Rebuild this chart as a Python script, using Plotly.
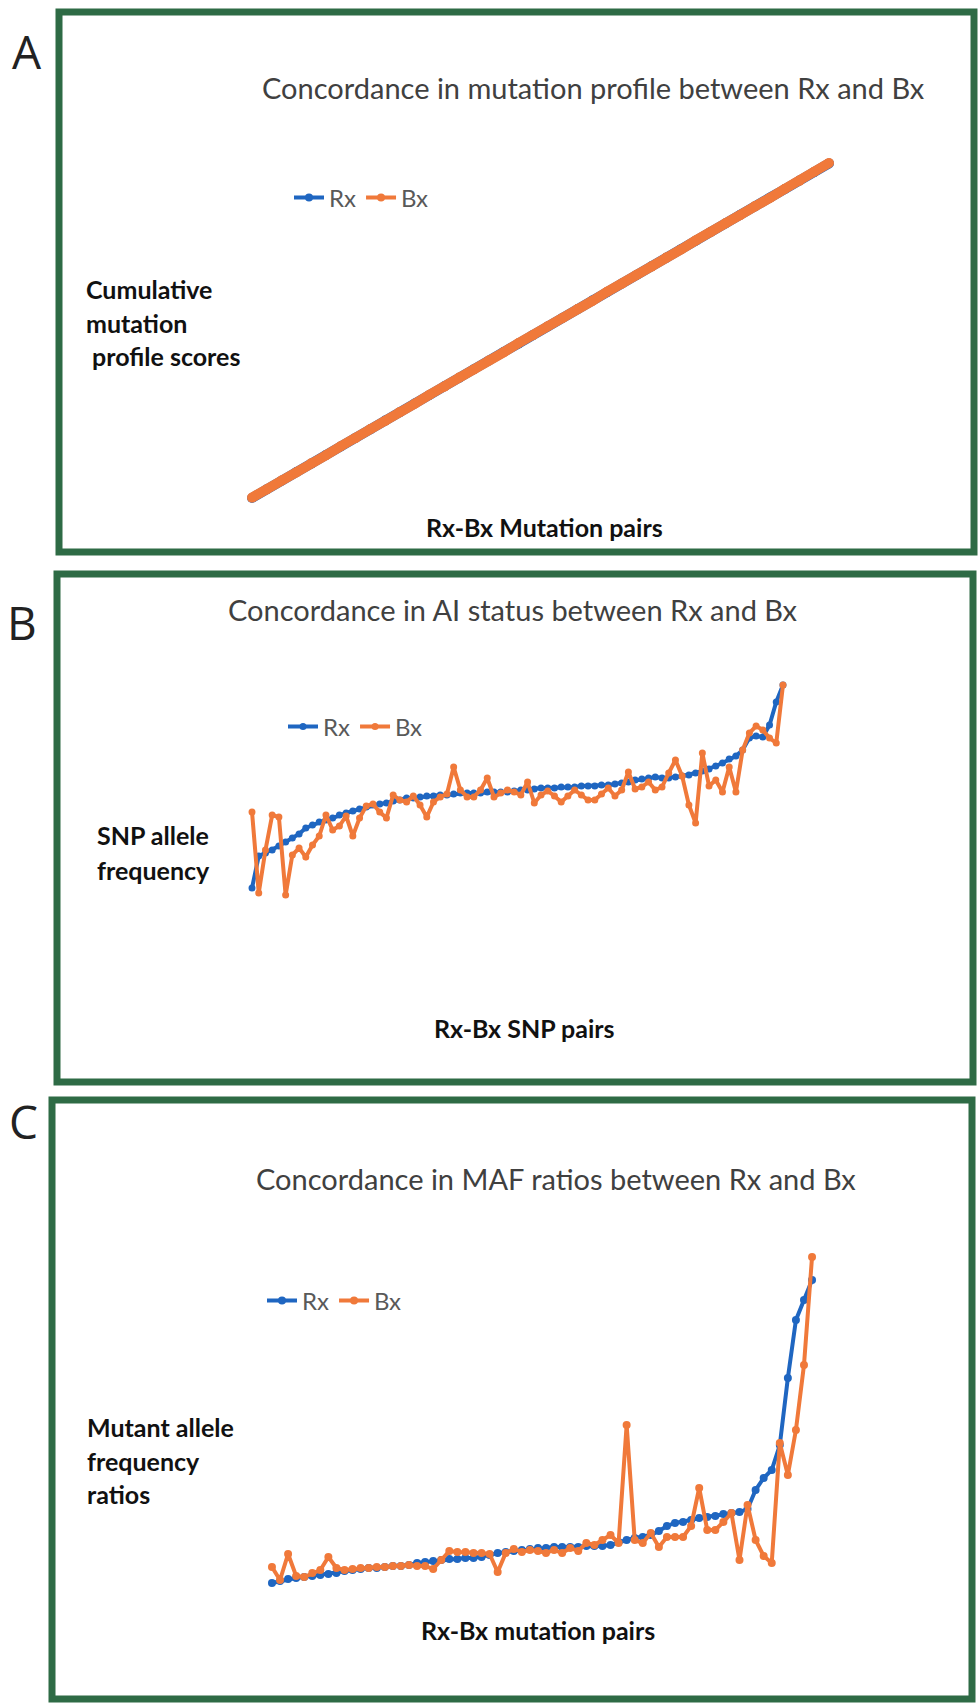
import plotly.graph_objects as go

W, H = 979, 1706

# ---------------- data ----------------
A_rx = [2.0, 4.6, 7.1, 9.7, 12.2, 14.8, 17.3, 19.9, 22.4, 25.0,
        27.5, 30.1, 32.6, 35.2, 37.7, 40.3, 42.8, 45.4, 47.9, 50.5,
        53.0, 55.6, 58.1, 60.7, 63.2, 65.8, 68.3, 70.9, 73.4, 76.0,
        78.5, 81.1, 83.6, 86.2, 88.7, 91.3, 93.8, 96.4, 98.9, 101.5]
A_bx = [2.1, 4.5, 7.2, 9.6, 12.3, 14.7, 17.4, 19.8, 22.5, 24.9,
        27.6, 30.0, 32.7, 35.1, 37.8, 40.2, 42.9, 45.3, 48.0, 50.4,
        53.1, 55.5, 58.2, 60.6, 63.3, 65.7, 68.4, 70.8, 73.5, 75.9,
        78.6, 81.0, 83.7, 86.1, 88.8, 91.2, 93.9, 96.3, 99.0, 101.6]

B_rx = [0.068, 0.196, 0.208, 0.220, 0.236, 0.252, 0.268, 0.284, 0.308, 0.320,
        0.332, 0.340, 0.348, 0.360, 0.368, 0.376, 0.384, 0.392, 0.400, 0.404,
        0.408, 0.416, 0.420, 0.428, 0.428, 0.432, 0.436, 0.436, 0.440, 0.440,
        0.444, 0.448, 0.448, 0.448, 0.448, 0.452, 0.452, 0.452, 0.452, 0.456,
        0.460, 0.460, 0.464, 0.468, 0.468, 0.468, 0.472, 0.472, 0.472, 0.476,
        0.476, 0.476, 0.480, 0.480, 0.484, 0.488, 0.492, 0.500, 0.504, 0.508,
        0.512, 0.508, 0.508, 0.512, 0.516, 0.520, 0.528, 0.536, 0.544, 0.556,
        0.568, 0.584, 0.596, 0.620, 0.668, 0.676, 0.672, 0.720, 0.812, 0.880]
B_bx = [0.372, 0.048, 0.220, 0.360, 0.352, 0.040, 0.200, 0.228, 0.192, 0.240,
        0.276, 0.360, 0.300, 0.316, 0.356, 0.276, 0.348, 0.396, 0.404, 0.372,
        0.348, 0.440, 0.420, 0.412, 0.436, 0.400, 0.352, 0.412, 0.432, 0.444,
        0.552, 0.460, 0.432, 0.432, 0.460, 0.508, 0.432, 0.448, 0.460, 0.452,
        0.440, 0.492, 0.408, 0.440, 0.456, 0.436, 0.412, 0.436, 0.460, 0.440,
        0.420, 0.420, 0.444, 0.468, 0.436, 0.460, 0.532, 0.464, 0.472, 0.492,
        0.460, 0.472, 0.528, 0.580, 0.516, 0.400, 0.328, 0.608, 0.476, 0.500,
        0.452, 0.552, 0.452, 0.620, 0.688, 0.716, 0.700, 0.668, 0.648, 0.880]

C_rx = [0.17, 0.19, 0.21, 0.22, 0.23, 0.24, 0.25, 0.26, 0.27, 0.29,
        0.30, 0.31, 0.32, 0.32, 0.33, 0.34, 0.34, 0.35, 0.37, 0.38,
        0.39, 0.40, 0.41, 0.41, 0.42, 0.42, 0.43, 0.45, 0.47, 0.48,
        0.49, 0.50, 0.51, 0.52, 0.52, 0.53, 0.53, 0.53, 0.53, 0.54,
        0.54, 0.54, 0.55, 0.58, 0.60, 0.62, 0.63, 0.65, 0.69, 0.74,
        0.77, 0.78, 0.80, 0.82, 0.83, 0.84, 0.86, 0.87, 0.88, 0.91,
        1.10, 1.22, 1.30, 1.55, 2.22, 2.80, 3.00, 3.20]
C_bx = [0.33, 0.20, 0.46, 0.24, 0.23, 0.27, 0.30, 0.43, 0.32, 0.30,
        0.31, 0.32, 0.32, 0.33, 0.33, 0.34, 0.34, 0.35, 0.34, 0.34,
        0.31, 0.40, 0.49, 0.48, 0.48, 0.47, 0.47, 0.46, 0.28, 0.47,
        0.51, 0.48, 0.50, 0.49, 0.47, 0.50, 0.47, 0.52, 0.49, 0.57,
        0.55, 0.60, 0.65, 0.57, 1.75, 0.60, 0.57, 0.67, 0.53, 0.63,
        0.63, 0.63, 0.74, 1.12, 0.70, 0.70, 0.78, 0.87, 0.40, 0.95,
        0.60, 0.44, 0.37, 1.57, 1.25, 1.70, 2.35, 3.43]

series_names = ["Rx", "Bx"]
titles = ["Concordance in mutation profile between Rx and Bx",
          "Concordance in AI status between Rx and Bx",
          "Concordance in MAF ratios between Rx and Bx"]
ylabels = [["Cumulative", "mutation", " profile scores"],
           ["SNP allele", "frequency"],
           ["Mutant allele", "frequency", "ratios"]]
xlabels = ["Rx-Bx Mutation pairs", "Rx-Bx SNP pairs", "Rx-Bx mutation pairs"]
panel_letters = ["A", "B", "C"]

# ---------------- styling / layout helpers ----------------
BLUE = "#1f66c1"
ORANGE = "#f0793a"
GREEN = "#2e6b45"
FONT = "Lato"

def px(x):
    return x / W

def py(y):
    return 1 - y / H

fig = go.Figure()

panels = [
    dict(rx=A_rx, bx=A_bx, xdom=(237.2, 843.8), ydom=(521.5, 134.8), yr=(-5, 110),
         lw=10, ms=10, box=(59, 12, 974, 552), title=(593, 88), letter=(27, 51),
         ylab=(84, [289, 323, 356]), xlab=(544, 527), leg=(289, 198)),
    dict(rx=B_rx, bx=B_bx, xdom=(245.3, 789.7), ydom=(905, 655), yr=(0, 1),
         lw=4, ms=7, box=(57, 574, 973, 1082), title=(513, 609), letter=(22, 622),
         ylab=(95, [835, 870]), xlab=(524, 1028), leg=(283, 727)),
    dict(rx=C_rx, bx=C_bx, xdom=(263.9, 820.1), ydom=(1600, 1240), yr=(0, 3.6),
         lw=4, ms=8, box=(52, 1100, 972, 1699), title=(556, 1178), letter=(23, 1121),
         ylab=(85, [1427, 1461, 1494]), xlab=(538, 1630), leg=(262, 1301)),
]

shapes = []
annotations = []
layout_axes = {}
for i, p in enumerate(panels):
    n = len(p["rx"])
    xs = list(range(n))
    suffix = "" if i == 0 else str(i + 1)
    legname = "legend" + suffix
    thick = p["lw"] > 5
    for name, vals, col in ((series_names[0], p["rx"], BLUE), (series_names[1], p["bx"], ORANGE)):
        fig.add_trace(go.Scatter(
            x=xs, y=vals, name=name, mode="lines+markers",
            line=dict(color=col, width=p["lw"]),
            marker=dict(color=col, size=p["ms"]),
            xaxis="x" + suffix, yaxis="y" + suffix,
            legend=legname, cliponaxis=False, showlegend=not thick))
        if thick:
            # legend-only entry with a normal (thin) line + marker symbol
            fig.add_trace(go.Scatter(
                x=[None], y=[None], name=name, mode="lines+markers",
                line=dict(color=col, width=4), marker=dict(color=col, size=8),
                xaxis="x" + suffix, yaxis="y" + suffix,
                legend=legname, showlegend=True, hoverinfo="skip"))
    layout_axes["xaxis" + suffix] = dict(
        domain=[px(p["xdom"][0]), px(p["xdom"][1])], range=[-1, n],
        showgrid=False, zeroline=False, showticklabels=False, showline=False,
        anchor="y" + suffix, fixedrange=True)
    layout_axes["yaxis" + suffix] = dict(
        domain=[py(p["ydom"][0]), py(p["ydom"][1])], range=list(p["yr"]),
        showgrid=False, zeroline=False, showticklabels=False, showline=False,
        anchor="x" + suffix, fixedrange=True)
    layout_axes[legname] = dict(
        x=px(p["leg"][0]), y=py(p["leg"][1]), xanchor="left", yanchor="middle",
        orientation="h", bgcolor="rgba(0,0,0,0)", traceorder="normal",
        font=dict(family=FONT, size=24, color="#595959"),
        itemwidth=30, tracegroupgap=0)
    x0, y0, x1, y1 = p["box"]
    shapes.append(dict(type="rect", xref="paper", yref="paper",
                       x0=px(x0), x1=px(x1), y0=py(y0), y1=py(y1),
                       line=dict(color=GREEN, width=7), layer="below"))
    annotations.append(dict(text=titles[i], x=px(p["title"][0]), y=py(p["title"][1]),
                            xref="paper", yref="paper", showarrow=False,
                            xanchor="center", yanchor="middle",
                            font=dict(family=FONT, size=29, color="#404040")))
    annotations.append(dict(text=panel_letters[i], x=px(p["letter"][0]), y=py(p["letter"][1]),
                            xref="paper", yref="paper", showarrow=False,
                            xanchor="center", yanchor="middle",
                            font=dict(family="Open Sans", size=46, color="#222222")))
    for line_text, yy in zip(ylabels[i], p["ylab"][1]):
        annotations.append(dict(text="<b>" + line_text + "</b>", x=px(p["ylab"][0]), y=py(yy),
                                xref="paper", yref="paper", showarrow=False,
                                xanchor="left", yanchor="middle",
                                font=dict(family=FONT, size=25, color="#111111")))
    annotations.append(dict(text="<b>" + xlabels[i] + "</b>", x=px(p["xlab"][0]), y=py(p["xlab"][1]),
                            xref="paper", yref="paper", showarrow=False,
                            xanchor="center", yanchor="middle",
                            font=dict(family=FONT, size=25, color="#111111")))

fig.update_layout(
    width=W, height=H, margin=dict(l=0, r=0, t=0, b=0),
    paper_bgcolor="white", plot_bgcolor="rgba(0,0,0,0)",
    shapes=shapes, annotations=annotations,
    **layout_axes,
)

fig.write_html("out.html", config={"displayModeBar": False})
